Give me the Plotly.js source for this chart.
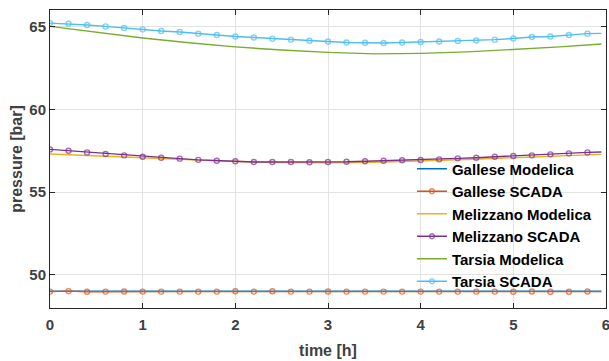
<!DOCTYPE html>
<html>
<head>
<meta charset="utf-8">
<script src="https://cdn.plot.ly/plotly-3.0.1.min.js"></script>
<style>
html,body{margin:0;padding:0;background:#fff;}
#chart{width:609px;height:361px;}
</style>
</head>
<body>
<div id="chart"></div>
<script>
// Time axes [h]
const scadaTime = [0,0.2,0.4,0.6,0.8,1.0,1.2,1.4,1.6,1.8,2.0,2.2,2.4,2.6,2.8,3.0,3.2,3.4,3.6,3.8,4.0,4.2,4.4,4.6,4.8,5.0,5.2,5.4,5.6,5.8,5.95];
const modelTime = [0,0.5,1.0,1.5,2.0,2.5,3.0,3.5,4.0,4.5,5.0,5.5,5.95];

// Gallese [bar]
const galleseModelica = [49.02,49.02,49.02,49.02,49.02,49.02,49.02,49.02,49.02,49.02,49.02,49.02,49.02];
const galleseScada = [48.99,49.02,48.98,48.99,49.00,48.99,48.99,48.99,48.99,48.99,49.01,48.99,49.01,48.99,48.99,49.00,48.99,48.99,48.99,48.99,48.99,48.99,48.99,48.99,48.99,48.98,49.00,48.98,48.98,49.00,48.99];

// Melizzano [bar]
const melizzanoModelica = [57.30,57.19,57.08,56.96,56.85,56.79,56.77,56.80,56.87,56.97,57.08,57.18,57.28];
const melizzanoScada = [57.58,57.50,57.40,57.30,57.22,57.14,57.08,57.02,56.95,56.89,56.86,56.82,56.82,56.82,56.80,56.82,56.83,56.86,56.89,56.92,56.94,56.98,57.04,57.08,57.14,57.18,57.22,57.28,57.34,57.40,57.42];

// Tarsia [bar]
const tarsiaModelica = [65.01,64.64,64.31,64.02,63.77,63.58,63.44,63.35,63.38,63.47,63.60,63.77,63.95];
const tarsiaScada = [65.21,65.17,65.09,65.01,64.91,64.83,64.73,64.67,64.57,64.49,64.40,64.34,64.27,64.21,64.14,64.10,64.04,64.02,64.01,64.04,64.07,64.10,64.13,64.16,64.21,64.28,64.37,64.40,64.49,64.57,64.59];

const seriesNames = ["Gallese Modelica","Gallese SCADA","Melizzano Modelica","Melizzano SCADA","Tarsia Modelica","Tarsia SCADA"];
const colors = ["#0072BD","#D95319","#EDB120","#7E2F8E","#77AC30","#4DBEEE"];

const markerSizes = scadaTime.map((t,i)=> i === scadaTime.length-1 ? 0 : 5);

function modelTrace(y, idx){
  return {x: modelTime, y: y, name: seriesNames[idx], type:'scatter', mode:'lines',
    line:{color:colors[idx], width:1.4}};
}
function scadaTrace(y, idx){
  return {x: scadaTime, y: y, name: seriesNames[idx], type:'scatter', mode:'lines+markers',
    line:{color:colors[idx], width:1.4},
    marker:{symbol:'circle-open', size:markerSizes, color:colors[idx], line:{width:1.4, color:colors[idx]}}};
}

const data = [
  modelTrace(galleseModelica,0),
  scadaTrace(galleseScada,1),
  modelTrace(melizzanoModelica,2),
  scadaTrace(melizzanoScada,3),
  modelTrace(tarsiaModelica,4),
  scadaTrace(tarsiaScada,5)
];

const FONT = 'Liberation Sans, Arial, sans-serif';
const axisCommon = {
  showline:true, linecolor:'#262626', linewidth:1, mirror:'ticks',
  ticks:'inside', ticklen:5, tickcolor:'#262626', tickwidth:1,
  showgrid:true, gridcolor:'#e3e3e3', gridwidth:1, zeroline:false,
  ticklabeloverflow:'allow',
  tickfont:{family:FONT, size:15, color:'#404040', weight:'bold'}
};

const layout = {
  width:609, height:361,
  margin:{l:50, r:3, t:10, b:53},
  paper_bgcolor:'#ffffff', plot_bgcolor:'#ffffff',
  showlegend:true,
  xaxis: Object.assign({}, axisCommon, {
    range:[0,6], tickvals:[0,1,2,3,4,5,6], ticktext:['0','1','2','3','4','5','6'],
    ticklabelstandoff:3,
    title:{text:'time [h]', standoff:12, font:{family:FONT, size:16, color:'#404040', weight:'bold'}}
  }),
  yaxis: Object.assign({}, axisCommon, {
    range:[48,66], tickvals:[50,55,60,65], ticktext:['50','55','60','65'],
    title:{text:'pressure [bar]', standoff:2, font:{family:FONT, size:16, color:'#404040', weight:'bold'}}
  }),
  shapes:[{
    type:'rect', xref:'paper', yref:'paper', layer:'between',
    x0:0.669, x1:0.997, y0:0.068, y1:0.49,
    fillcolor:'#ffffff', line:{width:0}
  }],
  legend:{
    x:0.651, y:0.522, xanchor:'left', yanchor:'top',
    bgcolor:'rgba(255,255,255,0)', borderwidth:0,
    font:{family:FONT, size:15, color:'#000000', weight:'bold'},
    tracegroupgap:0
  }
};

Plotly.newPlot('chart', data, layout, {staticPlot:true, displayModeBar:false});
</script>
</body>
</html>
